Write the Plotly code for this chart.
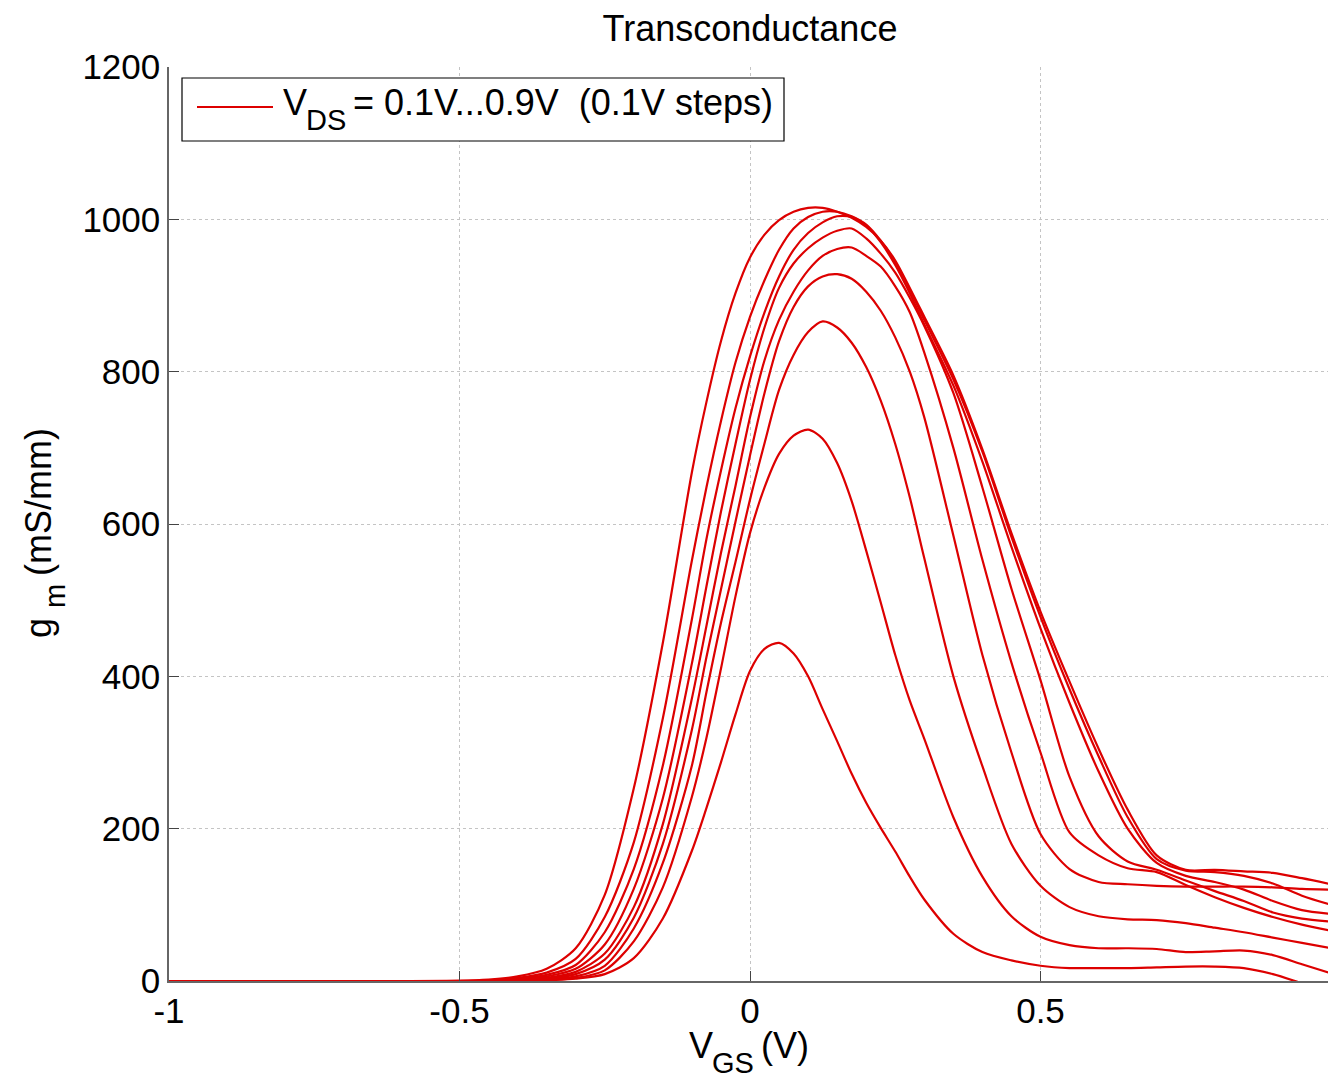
import plotly.graph_objects as go

# Gate voltage grid (V)
vgs = [-1.0, -0.5, -0.45, -0.4, -0.35, -0.3, -0.25, -0.2, -0.15,
       -0.1, -0.075, -0.05, -0.025, 0.0, 0.025, 0.05, 0.075, 0.1, 0.125, 0.15, 0.175,
       0.2, 0.225, 0.25, 0.275, 0.3,
       0.35, 0.4, 0.45, 0.5, 0.55, 0.6, 0.65, 0.7, 0.75, 0.8, 0.85, 0.9, 0.95, 1.0]

# Transconductance gm (mS/mm) for VDS = 0.1 ... 0.9 V
gm_01 = [0, 0, 0, 0.2, 1, 3, 9, 30, 82,
         171, 227, 287, 350, 407, 436, 444, 430, 400, 357, 315, 272, 234, 201, 170, 137, 107,
         62, 38, 27, 20, 17, 17, 17, 18, 19, 19, 17, 9, -3, -15]
gm_02 = [0, 0, 0, 0.3, 1.5, 4, 14, 52, 123,
         242, 319, 410, 505, 588, 648, 692, 716, 724, 712, 680, 630, 565, 497, 428, 368, 318,
         215, 137, 85, 58, 47, 43, 43, 42, 38, 39, 40, 34, 22, 10]
gm_03 = [0, 0, 0, 0.5, 2, 6, 20, 69, 155,
         283, 379, 470, 550, 632, 706, 776, 822, 852, 866, 858, 838, 806, 762, 705, 635, 555,
         400, 282, 180, 125, 97, 85, 81, 80, 76, 70, 64, 57, 50, 43]
gm_04 = [0, 0, 0, 1, 3, 9, 28, 83, 180,
         330, 425, 514, 603, 690, 772, 840, 885, 912, 925, 928, 922, 905, 880, 845, 800, 740,
         585, 428, 300, 193, 147, 130, 127, 125, 124, 124, 124, 123, 121, 120]
gm_05 = [0, 0, 0, 1.5, 4, 12, 36, 97, 206,
         371, 466, 562, 650, 740, 815, 868, 905, 933, 952, 961, 963, 952, 938, 912, 878, 825,
         700, 553, 418, 300, 195, 165, 148, 143, 126, 110, 96, 84, 74, 66]
gm_06 = [0, 0, 0.5, 2, 6, 16, 48, 121, 240,
         417, 518, 616, 705, 789, 858, 910, 942, 962, 976, 985, 988, 975, 955, 930, 897, 860,
         772, 648, 515, 395, 268, 190, 157, 146, 132, 118, 105, 90, 82, 78]
gm_07 = [0, 0, 1, 3, 8, 21, 64, 147, 283,
         475, 580, 670, 752, 820, 878, 925, 960, 982, 996, 1004, 1003, 992, 970, 940, 903, 862,
         782, 682, 570, 463, 365, 275, 200, 155, 138, 130, 120, 105, 93, 88]
gm_08 = [0, 0, 1, 4, 11, 29, 84, 182, 345,
         552, 648, 735, 812, 872, 920, 960, 988, 1003, 1010, 1010, 1004, 993, 972, 944, 908, 868,
         790, 695, 583, 478, 383, 295, 215, 160, 145, 143, 138, 128, 112, 100]
gm_09 = [0, 0.5, 2, 6, 16, 43, 113, 253, 444,
         668, 760, 840, 903, 950, 980, 999, 1010, 1015, 1015, 1010, 1002, 990, 972, 946, 910, 872,
         795, 698, 588, 485, 393, 305, 225, 165, 146, 146, 144, 142, 135, 127]

curves = [gm_01, gm_02, gm_03, gm_04, gm_05, gm_06, gm_07, gm_08, gm_09]

x_ticks = [-1, -0.5, 0, 0.5, 1]
x_tick_labels = ["-1", "-0.5", "0", "0.5", "1"]
y_ticks = [0, 200, 400, 600, 800, 1000, 1200]
y_tick_labels = ["0", "200", "400", "600", "800", "1000", "1200"]

RED = "#DD0000"
FONT = "Liberation Sans"
FS = 36
FS_SUB = 29

fig = go.Figure()
for gm in curves:
    fig.add_trace(go.Scatter(x=vgs, y=gm, mode="lines",
                             line=dict(color=RED, width=2.2, shape="spline", smoothing=0.8),
                             showlegend=False, hoverinfo="skip"))

W, H = 1328, 1078
L, R, T, B = 169, 0, 67, 97
pw, ph = W - L - R, H - T - B


def px(x):
    return (x - L) / pw


def py(y):
    return (H - B - y) / ph


axis_common = dict(ticks="inside", ticklen=10, tickcolor="#444", tickwidth=1,
                   showline=True, linecolor="#666", linewidth=1.5,
                   showgrid=True, gridcolor="#c4c4c4", griddash="dot", gridwidth=1,
                   zeroline=False, tickfont=dict(family=FONT, size=35, color="black"))

fig.update_xaxes(range=[-1, (W - 750) / 581.0], tickvals=x_ticks, ticktext=x_tick_labels,
                 ticklabelstandoff=-2, **axis_common)
fig.update_yaxes(range=[0, 1200], tickvals=y_ticks, ticktext=y_tick_labels, **axis_common)


def txt(text, x, y, size=FS, angle=0):
    return dict(text=text, xref="paper", yref="paper", x=px(x), y=py(y),
                xanchor="left" if angle == 0 else "center", yanchor="middle",
                textangle=angle, showarrow=False,
                font=dict(family=FONT, size=size, color="black"))


def ctr(text, x, y, size=FS, angle=0):
    d = txt(text, x, y, size, angle)
    d["xanchor"] = "center"
    return d


fig.update_layout(
    width=W, height=H,
    margin=dict(l=L, r=R, t=T, b=B),
    plot_bgcolor="white", paper_bgcolor="white",
    font=dict(family=FONT, size=FS, color="black"),
    title=dict(text="Transconductance", x=750 / W, xanchor="center", y=1 - 28 / H,
               yanchor="middle", font=dict(family=FONT, size=FS, color="black")),
    shapes=[
        dict(type="rect", xref="paper", yref="paper", x0=px(182), x1=px(784), y0=py(141), y1=py(78),
             line=dict(color="black", width=1.2), fillcolor="white", layer="above"),
        dict(type="line", xref="paper", yref="paper", x0=px(197), x1=px(273), y0=py(107), y1=py(107),
             line=dict(color=RED, width=2), layer="above"),
    ],
    annotations=[
        # legend text
        txt("V", 281, 103),
        txt("DS", 304, 120, FS_SUB),
        txt("=\u00a00.1V...0.9V\u00a0\u00a0(0.1V\u00a0steps)", 351, 103),
        # x axis title
        txt("V", 687, 1045),
        txt("GS", 710, 1063, FS_SUB),
        txt("(V)", 759, 1045),
        # y axis title (rotated)
        ctr("g", 38, 628, FS, -90),
        ctr("m", 55, 596, FS_SUB, -90),
        ctr("(mS/mm)", 38, 502, FS, -90),
    ],
)

fig.write_html("out.html")
